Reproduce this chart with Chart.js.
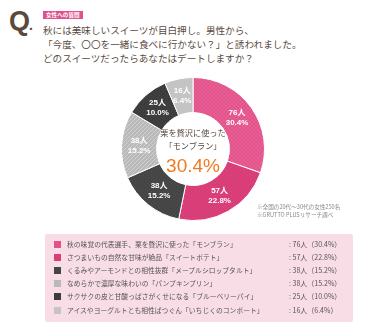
<!DOCTYPE html>
<html><head><meta charset="utf-8">
<script src="https://cdn.jsdelivr.net/npm/chart.js@4"></script>
<style>
html,body{margin:0;padding:0;background:#fff;width:384px;height:336px;overflow:hidden;font-family:"Noto Sans CJK JP","Noto Sans",sans-serif;}
.abs{position:absolute;}
#q{left:9px;top:6px;font-family:"Liberation Sans",Arial,sans-serif;font-weight:bold;font-size:27px;color:#5b4a3c;letter-spacing:-1px;}
#tag{left:43px;top:11px;background:#e0508a;color:#fff;font-size:5.6px;line-height:8px;padding:0 3px;font-weight:bold;}
#title{left:43px;top:23px;font-size:9.6px;line-height:14.2px;color:#5a4a40;white-space:nowrap;}
#chartbox{left:121px;top:77px;width:144px;height:144px;}
#center{left:143px;top:126px;width:100px;text-align:center;color:#5a4a40;font-size:8.2px;line-height:13px;}
#center .pct{color:#f07a1e;font-size:19px;line-height:20px;font-family:"Liberation Sans",Arial,sans-serif;margin-top:4px;}
#note{left:257px;top:203px;font-size:5.6px;line-height:8px;color:#888;}
#legend{left:45px;top:234px;width:308px;height:88px;background:#f9dde6;border-radius:2px;}
.row{position:absolute;left:0;height:13px;font-size:6.8px;color:#555;line-height:13px;width:308px;}
.sw{position:absolute;left:9px;top:3px;width:7px;height:7px;}
.lt{position:absolute;left:22px;white-space:nowrap;}
.lv{position:absolute;left:244px;white-space:nowrap;font-size:7px;}
</style></head>
<body>
<div id="q" class="abs">Q<span style="font-size:14px">.</span></div>
<div id="tag" class="abs">女性への質問</div>
<div id="title" class="abs">秋には美味しいスイーツが目白押し。男性から、<br>「今度、〇〇を一緒に食べに行かない？」と誘われました。<br>どのスイーツだったらあなたはデートしますか？</div>
<div id="chartbox" class="abs"><canvas id="c"></canvas></div>
<div id="center" class="abs">栗を贅沢に使った<br>「モンブラン」<div class="pct">30.4%</div></div>
<div id="note" class="abs">※全国の20代～30代の女性250名<br>※GRUTTO PLUSリサーチ調べ</div>
<div id="legend" class="abs"></div>
<script>
const categories = [
  "秋の味覚の代表選手、栗を贅沢に使った「モンブラン」",
  "さつまいもの自然な甘味が絶品「スイートポテト」",
  "くるみやアーモンドとの相性抜群「メープルシロップタルト」",
  "なめらかで濃厚な味わいの「パンプキンプリン」",
  "サクサクの皮と甘酸っぱさがくせになる「ブルーベリーパイ」",
  "アイスやヨーグルトとも相性ばつぐん「いちじくのコンポート」"
];
const counts = [76, 57, 38, 38, 25, 16];
const percents = [30.4, 22.8, 15.2, 15.2, 10.0, 6.4];
const baseColors = ["#e4508a", "#d93d78", "#454545", "#b9b9b9", "#3c3c3c", "#c4c4c4"];

function pattern(base, kind){
  const p = document.createElement('canvas');
  p.width = 4; p.height = 4;
  const g = p.getContext('2d');
  g.fillStyle = base; g.fillRect(0,0,4,4);
  if(kind==='check'){
    g.fillStyle='rgba(255,255,255,0.10)';
    g.fillRect(0,0,2,2); g.fillRect(2,2,2,2);
  } else if(kind==='hatch'){
    g.fillStyle='rgba(255,255,255,0.35)';
    for(let i=0;i<4;i++){ g.fillRect(i,3-i,1,1); }
  } else if(kind==='dots'){
    g.fillStyle='rgba(255,255,255,0.06)';
    g.fillRect(0,0,1,1); g.fillRect(2,2,1,1);
  }
  return document.getElementById('c').getContext('2d').createPattern(p,'repeat');
}
const kinds = ['check','dots','dots','hatch','dots',null];
const fills = baseColors.map((c,i)=> kinds[i] ? pattern(c,kinds[i]) : c);

const lg = document.getElementById('legend');
categories.forEach((t,i)=>{
  const r = document.createElement('div');
  r.className='row'; r.style.top = (4 + i*13.1)+'px';
  r.innerHTML = '<div class="sw" style="background:'+baseColors[i]+'"></div><span class="lt">'+t+'</span><span class="lv">: '+counts[i]+'人（'+percents[i].toFixed(1)+'%）</span>';
  lg.appendChild(r);
});

const labelPlugin = {
  id:'seglabels',
  afterDatasetsDraw(chart){
    const ctx = chart.ctx;
    const meta = chart.getDatasetMeta(0);
    ctx.save();
    ctx.textAlign='center'; ctx.textBaseline='middle';
    ctx.font = 'bold 8px "Liberation Sans", "Noto Sans CJK JP", sans-serif';
    meta.data.forEach((arc,i)=>{
      const a = (arc.startAngle+arc.endAngle)/2;
      const r = (arc.innerRadius+arc.outerRadius)/2;
      const x = arc.x + Math.cos(a)*r, y = arc.y + Math.sin(a)*r;
      ctx.fillStyle = '#fff';
      ctx.fillText(counts[i]+'人', x, y-5);
      ctx.fillText(percents[i].toFixed(1)+'%', x, y+5);
    });
    ctx.restore();
  }
};

new Chart(document.getElementById('c'), {
  type:'doughnut',
  data:{labels:categories, datasets:[{data:counts, backgroundColor:fills, borderColor:'#ffffff', borderWidth:1}]},
  options:{
    responsive:true, maintainAspectRatio:false, animation:false,
    cutout:'51%',
    layout:{padding:0},
    plugins:{legend:{display:false}, tooltip:{enabled:false}}
  },
  plugins:[labelPlugin]
});
</script>
</body></html>
